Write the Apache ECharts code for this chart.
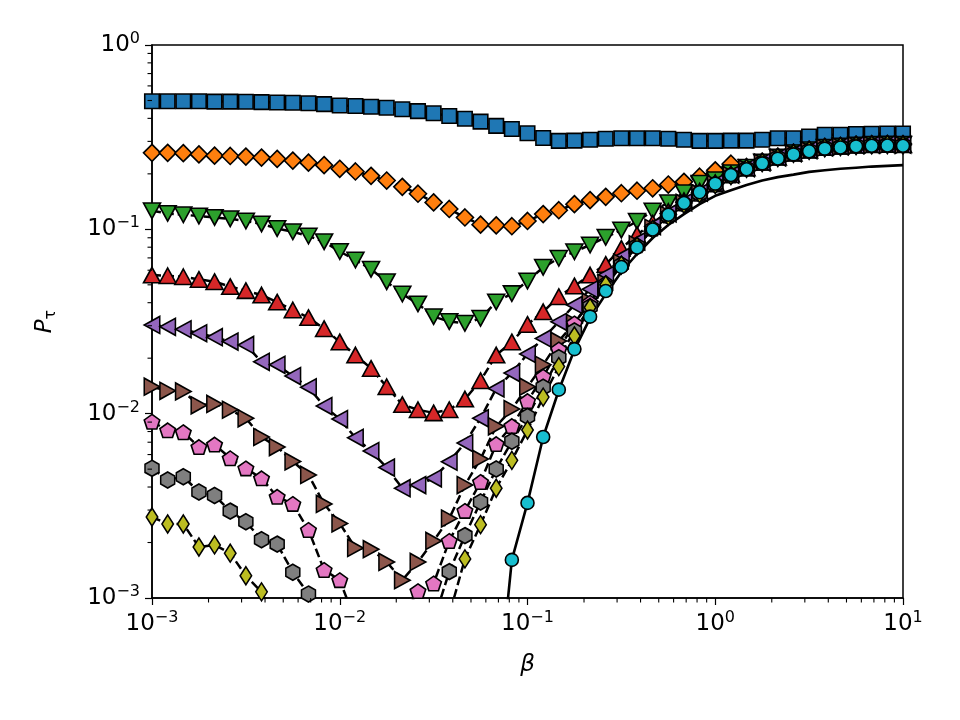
<!DOCTYPE html>
<html>
<head>
<meta charset="utf-8">
<title>P_tau vs beta</title>
<script src="https://cdn.jsdelivr.net/npm/echarts@6/dist/echarts.min.js"></script>
<style>
html, body { margin: 0; padding: 0; background: #fff; }
#chart { width: 960px; height: 720px; }
</style>
</head>
<body>
<div id="chart"></div>
<script>
// beta grid, 12 points per decade
const beta = [
  0.001, 0.001212, 0.001468, 0.001778, 0.002154, 0.002610, 0.003162, 0.003831, 0.004642, 0.005623, 0.006813, 0.008254,
  0.01, 0.01212, 0.01468, 0.01778, 0.02154, 0.02610, 0.03162, 0.03831, 0.04642, 0.05623, 0.06813, 0.08254,
  0.1, 0.1212, 0.1468, 0.1778, 0.2154, 0.2610, 0.3162, 0.3831, 0.4642, 0.5623, 0.6813, 0.8254,
  1, 1.212, 1.468, 1.778, 2.154, 2.610, 3.162, 3.831, 4.642, 5.623, 6.813, 8.254, 10
]

const pBlue = [0.495, 0.495, 0.495, 0.495, 0.493, 0.493, 0.492, 0.490, 0.488, 0.486,
  0.483, 0.478, 0.470, 0.467, 0.462, 0.457, 0.448, 0.438, 0.426, 0.412,
  0.398, 0.384, 0.364, 0.350, 0.332, 0.313, 0.302, 0.303, 0.306, 0.310,
  0.312, 0.312, 0.312, 0.310, 0.306, 0.302, 0.302, 0.303, 0.303, 0.306,
  0.312, 0.312, 0.319, 0.326, 0.326, 0.329, 0.330, 0.331, 0.331]
const pOrange = [0.260, 0.260, 0.259, 0.255, 0.251, 0.250, 0.248, 0.245, 0.241, 0.236,
  0.230, 0.223, 0.213, 0.206, 0.195, 0.184, 0.170, 0.156, 0.140, 0.129,
  0.116, 0.106, 0.105, 0.104, 0.111, 0.121, 0.127, 0.137, 0.144, 0.150,
  0.157, 0.162, 0.167, 0.175, 0.181, 0.193, 0.209, 0.227, 0.218, 0.233,
  0.248, 0.261, 0.271, 0.280, 0.284, 0.288, 0.290, 0.291, 0.290]
const pGreen = [0.126, 0.122, 0.120, 0.118, 0.116, 0.114, 0.111, 0.107, 0.101, 0.097,
  0.092, 0.0857, 0.0758, 0.0682, 0.0607, 0.052, 0.0446, 0.0394, 0.0336, 0.0316,
  0.0309, 0.0329, 0.0404, 0.0448, 0.0524, 0.0622, 0.0697, 0.0756, 0.0822, 0.0905,
  0.0991, 0.1105, 0.1257, 0.1395, 0.158, 0.178, 0.186, 0.203, 0.217, 0.232,
  0.247, 0.260, 0.270, 0.279, 0.283, 0.287, 0.289, 0.290, 0.289]
const pRed = [0.0565, 0.056, 0.0553, 0.0535, 0.052, 0.0489, 0.0465, 0.044, 0.0403, 0.0365,
  0.0332, 0.0289, 0.0245, 0.0208, 0.0176, 0.0140, 0.0112, 0.0105, 0.0101, 0.0105,
  0.0120, 0.0151, 0.0208, 0.0245, 0.0305, 0.0357, 0.0431, 0.0493, 0.0565, 0.0645,
  0.0788, 0.0935, 0.108, 0.125, 0.143, 0.161, 0.179, 0.199, 0.215, 0.231,
  0.246, 0.259, 0.269, 0.278, 0.282, 0.286, 0.288, 0.289, 0.288]
const pPurple = [0.0303, 0.0296, 0.0287, 0.0273, 0.026, 0.0246, 0.0236, 0.0191, 0.0184, 0.016,
  0.0139, 0.0110, 0.00935, 0.0074, 0.00627, 0.0051, 0.00394, 0.0041, 0.00446, 0.00549,
  0.00693, 0.00944, 0.0137, 0.0166, 0.0211, 0.0256, 0.0315, 0.0389, 0.0473, 0.0565,
  0.0708, 0.086, 0.104, 0.122, 0.140, 0.158, 0.177, 0.198, 0.215, 0.231,
  0.246, 0.259, 0.269, 0.278, 0.282, 0.286, 0.288, 0.289, 0.288]
const pBrown = [0.0140, 0.0133, 0.0132, 0.0111, 0.0113, 0.0105, 0.00944, 0.00747, 0.00659, 0.00551,
  0.00465, 0.00324, 0.00254, 0.00187, 0.00184, 0.00157, 0.00125, 0.00157, 0.00204, 0.0027,
  0.0041, 0.00568, 0.00854, 0.0106, 0.0140, 0.0184, 0.0248, 0.0310, 0.0405, 0.0513,
  0.066, 0.083, 0.102, 0.120, 0.139, 0.157, 0.176, 0.197, 0.214, 0.230,
  0.245, 0.258, 0.268, 0.277, 0.281, 0.285, 0.287, 0.288, 0.287]
const pPink = [0.00905, 0.00812, 0.00793, 0.00659, 0.0068, 0.00573, 0.00505, 0.00446, 0.00354, 0.00324,
  0.00234, 0.00142, 0.00125, 0.00075, 0.0006, 0.00058, 0.00078, 0.00109, 0.0012, 0.00204,
  0.00297, 0.00426, 0.00684, 0.00857, 0.0117, 0.0159, 0.0223, 0.0309, 0.040, 0.051,
  0.065, 0.082, 0.101, 0.119, 0.138, 0.156, 0.175, 0.196, 0.214, 0.230,
  0.245, 0.258, 0.268, 0.277, 0.281, 0.285, 0.287, 0.288, 0.287]
const pGray = [0.00505, 0.00437, 0.00455, 0.00376, 0.0036, 0.00296, 0.00259, 0.00207, 0.00196, 0.00138,
  0.00105, 0.0008, 0.0006, 0.0005, 0.0004, 0.0004, 0.0004, 0.0005, 0.00075, 0.00139,
  0.00218, 0.00332, 0.00501, 0.00708, 0.00965, 0.0139, 0.0201, 0.0281, 0.038, 0.049,
  0.064, 0.081, 0.100, 0.118, 0.137, 0.156, 0.175, 0.196, 0.214, 0.230,
  0.245, 0.258, 0.268, 0.277, 0.281, 0.285, 0.287, 0.288, 0.287]
const pOlive = [0.00275, 0.00252, 0.00252, 0.00189, 0.00194, 0.00175, 0.00132, 0.00108, 0.0007, 0.0005,
  0.0004, 0.0003, 0.0003, 0.0003, 0.0003, 0.0003, 0.0003, 0.00035, 0.0005, 0.00081,
  0.00163, 0.0025, 0.00394, 0.00558, 0.00815, 0.0123, 0.0180, 0.0264, 0.0377, 0.050,
  0.064, 0.081, 0.100, 0.118, 0.137, 0.156, 0.175, 0.196, 0.214, 0.230,
  0.245, 0.258, 0.268, 0.277, 0.281, 0.285, 0.287, 0.288, 0.287]
const pCyan = [null, null, null, null, null, null, null, null, null, null,
  null, null, null, null, null, null, null, null, null, null,
  null, null, null, 0.00161, 0.00328, 0.00747, 0.0135, 0.0224, 0.0336, 0.0463,
  0.0625, 0.0797, 0.0997, 0.120, 0.139, 0.159, 0.177, 0.197, 0.212, 0.228,
  0.242, 0.255, 0.265, 0.274, 0.278, 0.282, 0.284, 0.285, 0.284]
// solid theory curve for the last set
const pTheory = [null, null, null, null, null, null, null, null, null, null,
  null, null, null, null, null, null, null, null, null, null,
  null, null, 0.00023, 0.00161, 0.00328, 0.00747, 0.0134, 0.0222, 0.0330, 0.0446,
  0.0587, 0.0735, 0.0897, 0.1055, 0.121, 0.137, 0.152, 0.163, 0.174, 0.184,
  0.192, 0.198, 0.205, 0.209, 0.213, 0.216, 0.219, 0.221, 0.223]

const xTickExp = [-3, -2, -1, 0, 1]
const yTickExp = [-3, -2, -1, 0]
const minorMult = [2, 3, 4, 5, 6, 7, 8, 9]

function pairs (ys) {
  return beta.map((b, i) => [b, ys[i]]).filter(p => p[1] != null)
}
function minorValues (exps) {
  let out = []
  for (let k = 0; k < exps.length - 1; k++) {
    minorMult.forEach(m => out.push(m * Math.pow(10, exps[k])))
  }
  return out
}
function expLabel (exps) {
  return function (v) {
    const e = Math.round(Math.log10(v))
    if (exps.indexOf(e) < 0) return ''
    return '{b|10}{s|' + (e < 0 ? '\u2212' : '') + Math.abs(e) + '}'
  }
}

const pentagon = 'path://M951 0L1902 691L1539 1809L363 1809L0 691Z'
const hexagon = 'path://M866 0L1732 500L1732 1500L866 2000L0 1500L0 500Z'

const sets = [
  { data: pBlue, color: '#1f77b4', symbol: 'rect', size: 14.5, rotate: 0 },
  { data: pOrange, color: '#ff7f0e', symbol: 'diamond', size: [17, 17], rotate: 0 },
  { data: pGreen, color: '#2ca02c', symbol: 'triangle', size: [17, 15.5], rotate: 180 },
  { data: pRed, color: '#d62728', symbol: 'triangle', size: [17, 15.5], rotate: 0 },
  { data: pPurple, color: '#9467bd', symbol: 'triangle', size: [17, 15.5], rotate: 90 },
  { data: pBrown, color: '#8c564b', symbol: 'triangle', size: [17, 15.5], rotate: -90 },
  { data: pPink, color: '#e377c2', symbol: pentagon, size: [15.5, 14.5], rotate: 0 },
  { data: pGray, color: '#7f7f7f', symbol: hexagon, size: [14, 16], rotate: 0 },
  { data: pOlive, color: '#bcbd22', symbol: 'diamond', size: [11.5, 18], rotate: 0 },
  { data: pCyan, color: '#17becf', symbol: 'circle', size: 13, rotate: 0 }
]

let series = []
sets.forEach((s, idx) => {
  if (idx < sets.length - 1) {
    series.push({
      type: 'line',
      data: pairs(s.data),
      symbol: 'none',
      silent: true,
      z: 1,
      lineStyle: { color: '#000', width: 2.5, type: [9, 4] }
    })
  }
})
series.push({
  type: 'line',
  data: pairs(pTheory),
  symbol: 'none',
  silent: true,
  z: 1,
  lineStyle: { color: '#000', width: 2.6 }
})
sets.forEach(s => {
  series.push({
    type: 'scatter',
    data: pairs(s.data),
    symbol: s.symbol,
    symbolSize: s.size,
    symbolRotate: s.rotate,
    z: 3,
    itemStyle: { color: s.color, borderColor: '#000', borderWidth: 1.6, opacity: 1 }
  })
})
// minor ticks on the log axes
series.push({
  type: 'custom',
  silent: true,
  clip: false,
  z: 5,
  data: minorValues(xTickExp).map(v => [v, 1e-3]),
  renderItem: function (params, api) {
    const p = api.coord([api.value(0), 1e-3])
    return { type: 'line', shape: { x1: p[0], y1: p[1], x2: p[0], y2: p[1] + 4.5 }, style: { stroke: '#000', lineWidth: 1.1 } }
  }
})
series.push({
  type: 'custom',
  silent: true,
  clip: false,
  z: 5,
  data: minorValues(yTickExp).map(v => [1e-3, v]),
  renderItem: function (params, api) {
    const p = api.coord([1e-3, api.value(1)])
    return { type: 'line', shape: { x1: p[0] - 4.5, y1: p[1], x2: p[0], y2: p[1] }, style: { stroke: '#000', lineWidth: 1.1 } }
  }
})

const labelRich = {
  b: { fontSize: 23, fontFamily: 'DejaVu Sans', color: '#000', lineHeight: 28 },
  s: { fontSize: 16, fontFamily: 'DejaVu Sans', color: '#000', lineHeight: 16, verticalAlign: 'top' }
}

const myChart = echarts.init(document.getElementById('chart'))
myChart.setOption({
  animation: false,
  backgroundColor: '#fff',
  grid: { left: 152, right: 57, top: 45, bottom: 122, show: true, borderColor: '#000', borderWidth: 1.5 },
  xAxis: {
    type: 'log',
    logBase: 10,
    min: 0.001,
    max: 10,
    name: 'β',
    nameLocation: 'middle',
    nameGap: 56,
    nameTextStyle: { fontStyle: 'italic', fontSize: 23, fontFamily: 'DejaVu Sans', color: '#000' },
    axisLine: { lineStyle: { color: '#000', width: 1.5 } },
    axisTick: { length: 7, lineStyle: { color: '#000', width: 1.2 } },
    splitLine: { show: false },
    axisLabel: { margin: 12, formatter: expLabel(xTickExp), rich: labelRich }
  },
  yAxis: {
    type: 'log',
    logBase: 10,
    min: 0.001,
    max: 1,
    name: '{p|P}{t|τ}',
    nameLocation: 'middle',
    nameGap: 93,
    nameTextStyle: {
      rich: {
        p: { fontStyle: 'italic', fontSize: 23, fontFamily: 'DejaVu Sans', color: '#000', lineHeight: 28 },
        t: { fontSize: 16, fontFamily: 'DejaVu Sans', color: '#000', verticalAlign: 'bottom', lineHeight: 16 }
      }
    },
    axisLine: { lineStyle: { color: '#000', width: 1.5 } },
    axisTick: { length: 7, lineStyle: { color: '#000', width: 1.2 } },
    splitLine: { show: false },
    axisLabel: { margin: 12, formatter: expLabel(yTickExp), rich: labelRich }
  },
  series: series
})
</script>
</body>
</html>
